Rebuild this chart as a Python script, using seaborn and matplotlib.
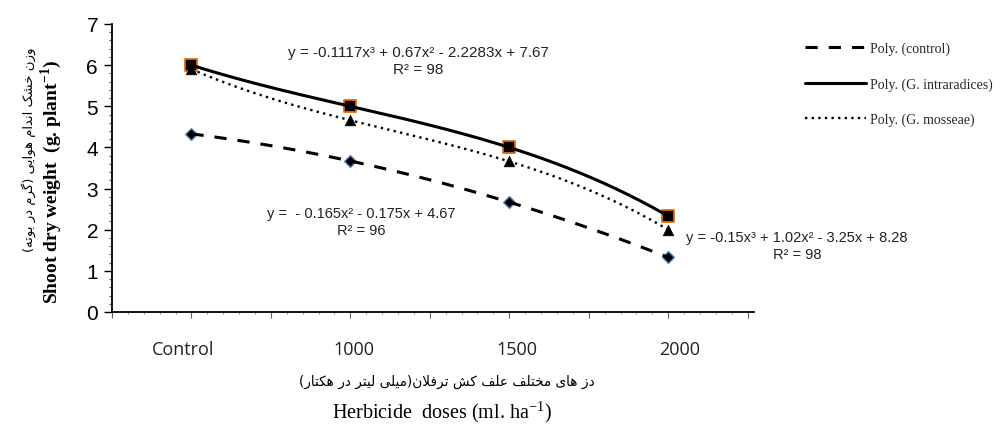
import unicodedata
import numpy as np
import pandas as pd
import matplotlib
matplotlib.use("Agg")
import matplotlib.pyplot as plt
import matplotlib.transforms as mtransforms
import seaborn as sns

# ---------------- data ----------------
categories = ["Control", "1000", "1500", "2000"]
dose_pos = [1, 2, 3, 4]
control = [4.33, 3.67, 2.67, 1.33]
intraradices = [6.0, 5.0, 4.0, 2.33]
mosseae = [5.9, 4.66, 3.66, 2.0]
series_names = ["Poly. (control)", "Poly. (G. intraradices)", "Poly. (G. mosseae)"]
eq_control = "y =  - 0.165x\u00b2 - 0.175x + 4.67\nR\u00b2 = 96"
eq_intra = "y = -0.1117x\u00b3 + 0.67x\u00b2 - 2.2283x + 7.67\nR\u00b2 = 98"
eq_moss = "y = -0.15x\u00b3 + 1.02x\u00b2 - 3.25x + 8.28\nR\u00b2 = 98"
ylabel_fa = "وزن خشک اندام هوایی (گرم در بوته)"
xlabel_fa = "دز های مختلف علف کش ترفلان(میلی لیتر در هکتار)"

# ------------- simple Persian shaping (presentation forms + RTL) -------------
FORMS = {}
for cp in range(0xFB50, 0xFEFF):
    d = unicodedata.decomposition(chr(cp))
    if d.startswith("<"):
        parts = d.split()
        try:
            key = tuple(chr(int(h, 16)) for h in parts[1:])
        except ValueError:
            continue
        FORMS[(key, parts[0])] = chr(cp)
RIGHT_ONLY = set("اآأإدذرزژوة")


def is_ar(c):
    return c is not None and "\u0600" <= c <= "\u06FF"


def joins_next(c):
    return is_ar(c) and c not in RIGHT_ONLY


def shape(text):
    units, i = [], 0
    while i < len(text):
        if text[i] == "ل" and i + 1 < len(text) and text[i + 1] == "ا":
            units.append(("ل", "ا"))
            i += 2
        else:
            units.append((text[i],))
            i += 1
    out = []
    for k, u in enumerate(units):
        if not is_ar(u[0]):
            out.append("".join(u))
            continue
        prev = units[k - 1][-1] if k > 0 else None
        nxt = units[k + 1][0] if k + 1 < len(units) else None
        jp = is_ar(prev) and joins_next(prev)
        jn = joins_next(u[-1]) and is_ar(nxt)
        tag = "<medial>" if jp and jn else "<final>" if jp else "<initial>" if jn else "<isolated>"
        out.append(FORMS.get((u, tag)) or FORMS.get((u, "<isolated>")) or "".join(u))
    s = "".join(out)[::-1]
    mirror = {"(": ")", ")": "("}
    return "".join(mirror.get(c, c) for c in s)


# ---------------- figure ----------------
sns.set_theme(style="white")
plt.rcParams["font.family"] = ["Liberation Sans", "DejaVu Sans"]
plt.rcParams["mathtext.fontset"] = "stix"

W, H = 1005, 431
fig = plt.figure(figsize=(W / 100, H / 100), dpi=100)
ax = fig.add_axes([112 / W, 1 - 313 / H, (754 - 112) / W, (313 - 25) / H])

df = pd.DataFrame({
    "x": dose_pos * 3,
    "y": control + intraradices + mosseae,
    "s": [series_names[0]] * 4 + [series_names[1]] * 4 + [series_names[2]] * 4,
})

# markers
sns.scatterplot(x=dose_pos, y=intraradices, marker="s", s=78, color="black",
                edgecolor="#E46C0A", linewidth=1.3, ax=ax, zorder=3, legend=False)
sns.scatterplot(x=dose_pos, y=mosseae, marker="^", s=60, color="black",
                edgecolor="black", linewidth=0.4, ax=ax, zorder=3, legend=False)
sns.scatterplot(x=dose_pos, y=control, marker="D", s=36, color="black",
                edgecolor="#4F81BD", linewidth=1.0, ax=ax, zorder=3, legend=False)

# polynomial trendlines fitted to the data
xs = np.linspace(dose_pos[0], dose_pos[-1], 200)
styles = {
    series_names[0]: dict(deg=2, ls=(0, (4, 3.6)), lw=2.2),
    series_names[1]: dict(deg=3, ls="-", lw=2.2),
    series_names[2]: dict(deg=3, ls=(0, (1, 1.8)), lw=1.7),
}
for name, st in styles.items():
    sub = df[df["s"] == name]
    coef = np.polyfit(sub["x"], sub["y"], st["deg"])
    sns.lineplot(x=xs, y=np.polyval(coef, xs), color="black", lw=st["lw"],
                 linestyle=st["ls"], ax=ax, label=name, zorder=4)

ax.set_xlim(0.5, 4.54)
ax.set_ylim(0, 7)
ax.set_xticks(np.arange(0.5, 4.51, 0.5))
ax.set_xticklabels([])
ax.set_xticks(np.arange(0.5, 4.54, 0.1), minor=True)
ax.set_yticks(range(0, 8))
ax.set_yticks(np.arange(0, 7, 0.2), minor=True)
ax.tick_params(axis="y", which="major", length=6, width=1, color="black",
               labelsize=15, pad=4, left=True, labelcolor="black")
ax.tick_params(axis="y", which="minor", length=2, width=0.8, color="#555555", left=True)
ax.tick_params(axis="x", which="major", length=4, width=0.8, color="#666666", bottom=True)
ax.tick_params(axis="x", which="minor", length=1.5, width=0.6, color="#888888", bottom=True)
for side in ("top", "right"):
    ax.spines[side].set_visible(False)
for side in ("left", "bottom"):
    ax.spines[side].set_color("black")
    ax.spines[side].set_linewidth(1.3)
ax.set_xlabel("")
ax.set_ylabel("")

# category labels (slightly wider spacing than the plotted points, as in the source)
label_shift = [-0.05, 0.02, 0.05, 0.07]
trans = mtransforms.blended_transform_factory(ax.transData, fig.transFigure)
for xp, sh, lab in zip(dose_pos, label_shift, categories):
    ax.text(xp + sh, 1 - 350 / H, lab, transform=trans, ha="center", va="center",
            fontsize=13, family="Open Sans", color="#222222")

# axis titles
fig.text(447 / W, 1 - 382 / H, shape(xlabel_fa), ha="center", va="center",
         fontsize=9.8, family=["DejaVu Sans"], color="black")
fig.text(442 / W, 1 - 412 / H, r"Herbicide  doses (ml. ha$^{\mathregular{-1}}$)",
         ha="center", va="center", fontsize=14.5, family="Liberation Serif", color="black")
fig.text(51 / W, 1 - 182 / H, r"Shoot dry weight  (g. plant$^{\mathregular{-1}}$)",
         rotation=90, ha="center", va="center", fontsize=14, fontweight="bold",
         family="Liberation Serif", color="black")
fig.text(29 / W, 1 - 150 / H, shape(ylabel_fa), rotation=90, ha="center", va="center",
         fontsize=9.5, family=["DejaVu Sans"], color="black")

# equations
eq_kw = dict(ha="center", va="center", fontsize=10.5, color="#222222", linespacing=1.2)
fig.text(418 / W, 1 - 61.5 / H, eq_intra, fontsize=11, **{k: v for k, v in eq_kw.items() if k != "fontsize"})
fig.text(797 / W, 1 - 246.5 / H, eq_moss, **eq_kw)
fig.text(361 / W, 1 - 222.5 / H, eq_control, **eq_kw)

# legend
leg = ax.legend(loc="upper left", bbox_to_anchor=(792 / W, 1 - 30 / H),
                bbox_transform=fig.transFigure, frameon=False,
                prop={"family": "Liberation Serif", "size": 10},
                handlelength=4.4, handletextpad=0.3, labelspacing=1.6)

fig.savefig("out.png", dpi=100)
